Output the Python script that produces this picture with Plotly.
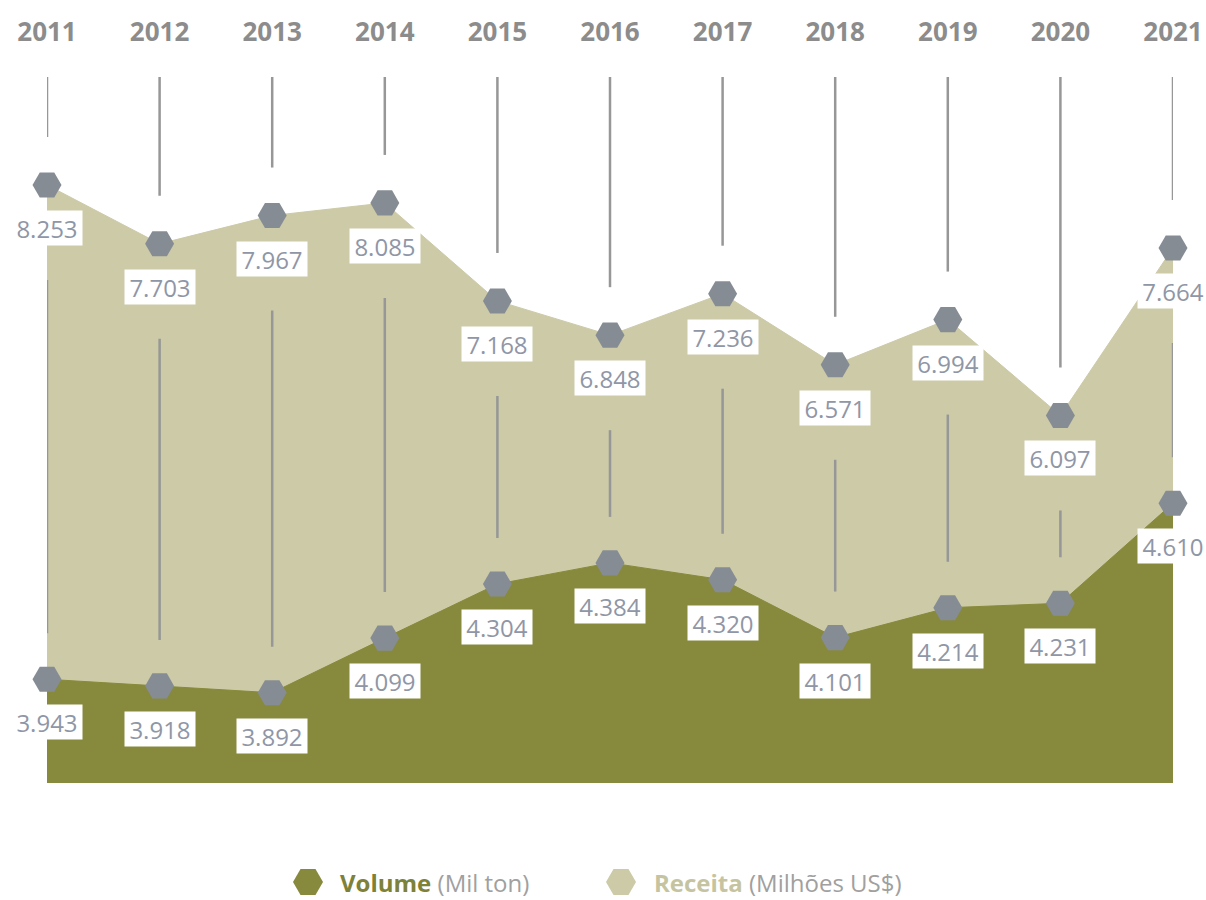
import plotly.graph_objects as go

# Series: yearly export volume (thousand tonnes) and revenue (US$ millions)
years = [2011, 2012, 2013, 2014, 2015, 2016, 2017, 2018, 2019, 2020, 2021]
volume = [3.943, 3.918, 3.892, 4.099, 4.304, 4.384, 4.320, 4.101, 4.214, 4.231, 4.610]
receita = [8.253, 7.703, 7.967, 8.085, 7.168, 6.848, 7.236, 6.571, 6.994, 6.097, 7.664]
year_labels = [str(y) for y in years]

# Styling
OLIVE = "#878a3c"
KHAKI = "#cccaa7"
MARKER_GRAY = "#868c94"
LABEL_GRAY = "#8f96a6"
LINE_GRAY = "#979797"
YEAR_GRAY = "#8c8c8c"
FONT = "Open Sans"

W, H = 1206, 900
TOP_PX, BOTTOM_PX = 77, 783          # plot area vertical extent in pixels
PLOT_H = BOTTOM_PX - TOP_PX

REC_RANGE = [2.659, 9.263]
VOL_RANGE = [3.550, 6.225]


def frac(v, rng):
    return (v - rng[0]) / (rng[1] - rng[0])


fig = go.Figure()

# Revenue area (drawn first, underneath)
fig.add_trace(go.Scatter(
    x=years, y=receita, mode="lines+markers", fill="tozeroy",
    fillcolor=KHAKI, line=dict(color=KHAKI, width=1),
    marker=dict(symbol="hexagon2", size=29, color=MARKER_GRAY),
    cliponaxis=False, showlegend=False, yaxis="y",
))

# Volume area on the overlaying axis so it sits on top
fig.add_trace(go.Scatter(
    x=years, y=volume, mode="lines+markers", fill="tozeroy",
    fillcolor=OLIVE, line=dict(color=OLIVE, width=1),
    marker=dict(symbol="hexagon2", size=29, color=MARKER_GRAY),
    cliponaxis=False, showlegend=False, yaxis="y2",
))

# Value labels in white boxes under each marker
annotations = []
label_font = dict(family=FONT, size=24, color=LABEL_GRAY)
for x, v in zip(years, receita):
    annotations.append(dict(
        x=x, y=v, xref="x", yref="y", text=f"{v:.3f}", showarrow=False,
        yshift=-43, font=label_font, bgcolor="white", width=66, height=30,
        borderpad=2,
    ))
for x, v in zip(years, volume):
    annotations.append(dict(
        x=x, y=v, xref="x", yref="y2", text=f"{v:.3f}", showarrow=False,
        yshift=-43, font=label_font, bgcolor="white", width=66, height=30,
        borderpad=2,
    ))

# Vertical year guides, broken around markers and labels
shapes = []
gap_above_rec = 48 / PLOT_H
gap_below_rec = 95 / PLOT_H
gap_above_vol = 46 / PLOT_H
for x, r, v in zip(years, receita, volume):
    fr = frac(r, REC_RANGE)
    fv = frac(v, VOL_RANGE)
    shapes.append(dict(
        type="line", xref="x", yref="y domain", x0=x, x1=x,
        y0=fr + gap_above_rec, y1=1, line=dict(color=LINE_GRAY, width=2.5),
        layer="above",
    ))
    lo, hi = fv + gap_above_vol, fr - gap_below_rec
    if hi > lo:
        shapes.append(dict(
            type="line", xref="x", yref="y domain", x0=x, x1=x,
            y0=lo, y1=hi, line=dict(color=LINE_GRAY, width=2.5),
            layer="above",
        ))

# Custom legend row at the bottom
LEG_H = 50
legend_x = [308, 621]
legend_y = 0.36
fig.add_trace(go.Scatter(
    x=legend_x, y=[legend_y, legend_y], mode="markers",
    marker=dict(symbol="hexagon2", size=30, color=[OLIVE, KHAKI]),
    xaxis="x3", yaxis="y3", showlegend=False, cliponaxis=False,
))
legend_font = dict(family=FONT, size=24, color="#a0a0a0")
annotations.append(dict(
    x=338, y=legend_y, xref="x3", yref="y3", xanchor="left", showarrow=False,
    text="<span style='color:#7d8238'><b>Volume</b></span> (Mil ton)",
    font=legend_font,
))
annotations.append(dict(
    x=652, y=legend_y, xref="x3", yref="y3", xanchor="left", showarrow=False,
    text="<span style='color:#c6c4a0'><b>Receita</b></span> (Milhões US$)",
    font=legend_font,
))

y_domain = [(H - BOTTOM_PX) / H, (H - TOP_PX) / H]

fig.update_layout(
    width=W, height=H,
    margin=dict(l=47, r=33, t=0, b=0),
    paper_bgcolor="white", plot_bgcolor="white",
    hovermode=False,
    xaxis=dict(
        range=[years[0], years[-1]], side="top",
        tickmode="array", tickvals=years, ticktext=year_labels,
        ticks="outside", ticklen=25, tickcolor="rgba(0,0,0,0)",
        tickfont=dict(family=FONT, size=26, color=YEAR_GRAY, weight="bold"),
        showgrid=False, zeroline=False, showline=False, fixedrange=True,
    ),
    yaxis=dict(range=REC_RANGE, domain=y_domain, visible=False,
               showgrid=False, zeroline=False),
    yaxis2=dict(range=VOL_RANGE, overlaying="y", visible=False,
                showgrid=False, zeroline=False),
    xaxis3=dict(range=[47, 1173], domain=[0, 1], anchor="y3", visible=False),
    yaxis3=dict(range=[0, 1], domain=[0, LEG_H / H], anchor="x3", visible=False),
    shapes=shapes,
    annotations=annotations,
)

fig.write_html("out.html")
